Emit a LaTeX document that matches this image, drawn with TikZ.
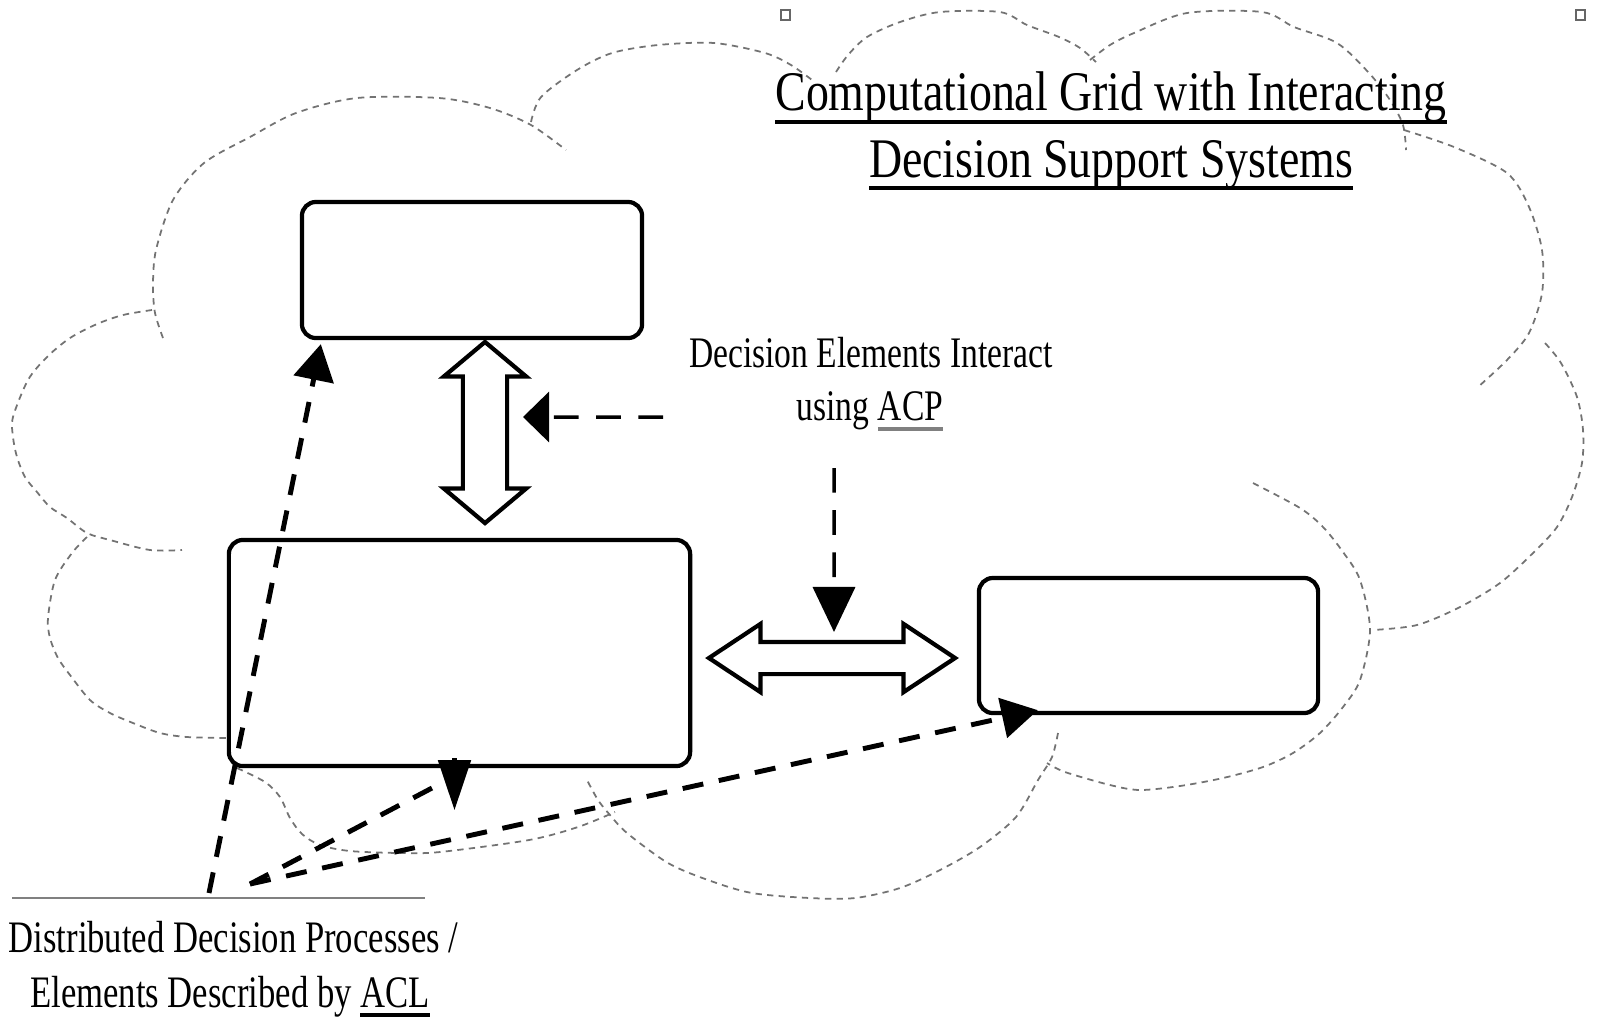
\documentclass[tikz,border=0pt]{standalone}
\usepackage{fontspec}
\setmainfont{Liberation Serif}
\newfontfamily\narrowfont[FakeStretch=0.77]{Liberation Serif}
\newfontfamily\titlefont[FakeStretch=0.82]{Liberation Serif}
\usetikzlibrary{arrows.meta}
\usetikzlibrary{shapes.arrows}
\newcommand{\undl}[3][black]{\setbox0\hbox{#3}\rlap{\color{#1}\rule[-#2]{\wd0}{1pt}}\box0}

\begin{document}
\begin{tikzpicture}[x=0.01cm,y=-0.01cm]
  \tikzset{box/.style = {draw, line width=1.2pt, rounded corners=0.14cm, inner sep=0pt}}
  \tikzset{blockarrow/.style = {draw, line width=1.2pt, double arrow, inner sep=0pt, double arrow head indent=0pt}}
  \tikzset{acp/.style = {line width=1pt, dash pattern=on 7pt off 5pt, -{Triangle[length=2.6mm,width=5mm]}}}
  \tikzset{acl/.style = {line width=1.4pt, dash pattern=on 6pt off 4.5pt, -{Triangle[length=3.6mm,width=4mm]}}}
  \tikzset{cloud/.style = {black!55, line width=0.5pt, dash pattern=on 1.8pt off 1.5pt}}
  \tikzset{label/.style = {inner sep=0pt, anchor=base, font=\narrowfont\fontsize{12.4}{14}\selectfont}}

  \useasboundingbox (0,0) rectangle (1597,1017);

  % cloud outline
  \draw[cloud] plot[smooth] coordinates {(163,338) (155,313) (153,285) (156,250) (173,200) (204,163) (250,137) (296,113) (357,98) (439,98) (490,108) (531,125) (566,150)};
  \draw[cloud] plot[smooth] coordinates {(531,122) (541,97) (577,70) (612,53) (658,45) (714,43) (765,53) (791,65) (812,80)};
  \draw[cloud] plot[smooth] coordinates {(836,72) (848,55) (867,37) (900,22) (940,12) (1000,12) (1027,25) (1059,37) (1080,48) (1096,62)};
  \draw[cloud] plot[smooth] coordinates {(1090,60) (1110,45) (1134,33) (1187,13) (1262,12) (1294,27) (1337,43) (1369,73) (1390,100) (1403,125) (1406,150)};
  \draw[cloud] plot[smooth] coordinates {(1404,130) (1454,147) (1507,173) (1529,207) (1542,250) (1542,293) (1529,333) (1507,360) (1478,387)};
  \draw[cloud] plot[smooth] coordinates {(1545,343) (1561,363) (1577,397) (1583,430) (1582,463) (1572,497) (1557,527) (1533,553) (1500,583) (1460,607) (1417,625) (1373,630)};
  \draw[cloud] plot[smooth] coordinates {(1253,483) (1300,508) (1323,527) (1343,552) (1360,580) (1370,630) (1360,680) (1343,707) (1320,733) (1293,753) (1263,767) (1223,778) (1180,786) (1140,790) (1110,785) (1065,772) (1047,763)};
  \draw[cloud] plot[smooth] coordinates {(1058,733) (1052,757) (1038,780) (1016,817) (980,847) (940,870) (900,888) (855,898) (810,898) (752,893) (708,880) (668,863) (627,833) (610,815) (598,800) (587,780)};
  \draw[cloud] plot[smooth] coordinates {(237,768) (265,782) (280,797) (290,818) (302,834) (320,845) (350,851) (400,853) (440,852) (529,840) (578,827) (615,812)};
  \draw[cloud] plot[smooth] coordinates {(152,310) (123,315) (97,324) (70,338) (47,357) (28,380) (13,417) (13,437) (17,457) (25,477) (37,492) (50,507) (67,518) (87,533) (110,540) (150,550) (182,550)};
  \draw[cloud] plot[smooth] coordinates {(87,537) (72,553) (55,580) (48,618) (50,638) (58,658) (70,675) (90,700) (110,713) (133,723) (160,733) (187,737) (227,738)};

  \draw[black!60, line width=0.5pt] (781,10) rectangle (790,20);
  \draw[black!60, line width=0.5pt] (1576,10) rectangle (1585,20);

  \node[label, font=\titlefont\fontsize{15.9}{18}\selectfont] (title1) at (1111,110) {\undl{3.9pt}{Computational Grid with Interacting}};
  \node[label, font=\titlefont\fontsize{15.9}{18}\selectfont] (title2) at (1111,177) {\undl{3.6pt}{Decision Support Systems}};

  \node[box, minimum width=3.4cm, minimum height=1.36cm] (top) at (472,270) {};
  \node[box, minimum width=4.61cm, minimum height=2.26cm] (mid) at (459.5,653) {};
  \node[box, minimum width=3.39cm, minimum height=1.35cm] (right) at (1148.5,645.5) {};

  \node[blockarrow, shape border rotate=90, minimum height=1.81cm, inner xsep=0.2cm,
        double arrow head extend=0.19cm, double arrow tip angle=100] (vlink) at (485,432.5) {};
  \node[blockarrow, minimum height=2.46cm, inner ysep=0.14cm,
        double arrow head extend=0.18cm, double arrow tip angle=67] (hlink) at (832,658) {};

  \node[label] (dei) at (871,367) {Decision Elements Interact};
  \node[label] (acp) at (870,420) {using \undl[black!50]{3pt}{ACP}};

  \coordinate (acpA) at (663,417);
  \coordinate (acpB) at (834,468);
  \draw[acp] (acpA) -- ([xshift=0.38cm,yshift=0.155cm]vlink.center);
  \draw[acp, -{Triangle[length=4.5mm,width=4.2mm]}] (acpB) -- ([xshift=0.02cm,yshift=0.26cm]hlink.center);

  \draw[black!50, line width=0.6pt] (12,898) -- (425,898);
  \node[label, anchor=base west, font=\narrowfont\fontsize{12.8}{14}\selectfont] (acl1) at (8,952) {Distributed Decision Processes /};
  \node[label, font=\narrowfont\fontsize{12.8}{14}\selectfont] (acl2) at (230,1007) {Elements Described by \undl{2.8pt}{ACL}};

  \coordinate (aclA) at (209,893);
  \coordinate (aclB) at (250,884);
  \coordinate (midtail) at (432,788);
  \draw[acl] (aclA) -- ([xshift=0.21cm,yshift=-0.04cm]top.south west);
  \draw[acl, -] (aclB) -- (midtail);
  \draw[line width=1.4pt, -{Triangle[length=5mm,width=3.2mm]}] ([xshift=-0.05cm,yshift=0.1cm]mid.south) -- ([xshift=-0.05cm,yshift=-0.42cm]mid.south);
  \draw[acl] (aclB) -- ([xshift=0.61cm,yshift=0.05cm]right.south west);
\end{tikzpicture}
\end{document}
